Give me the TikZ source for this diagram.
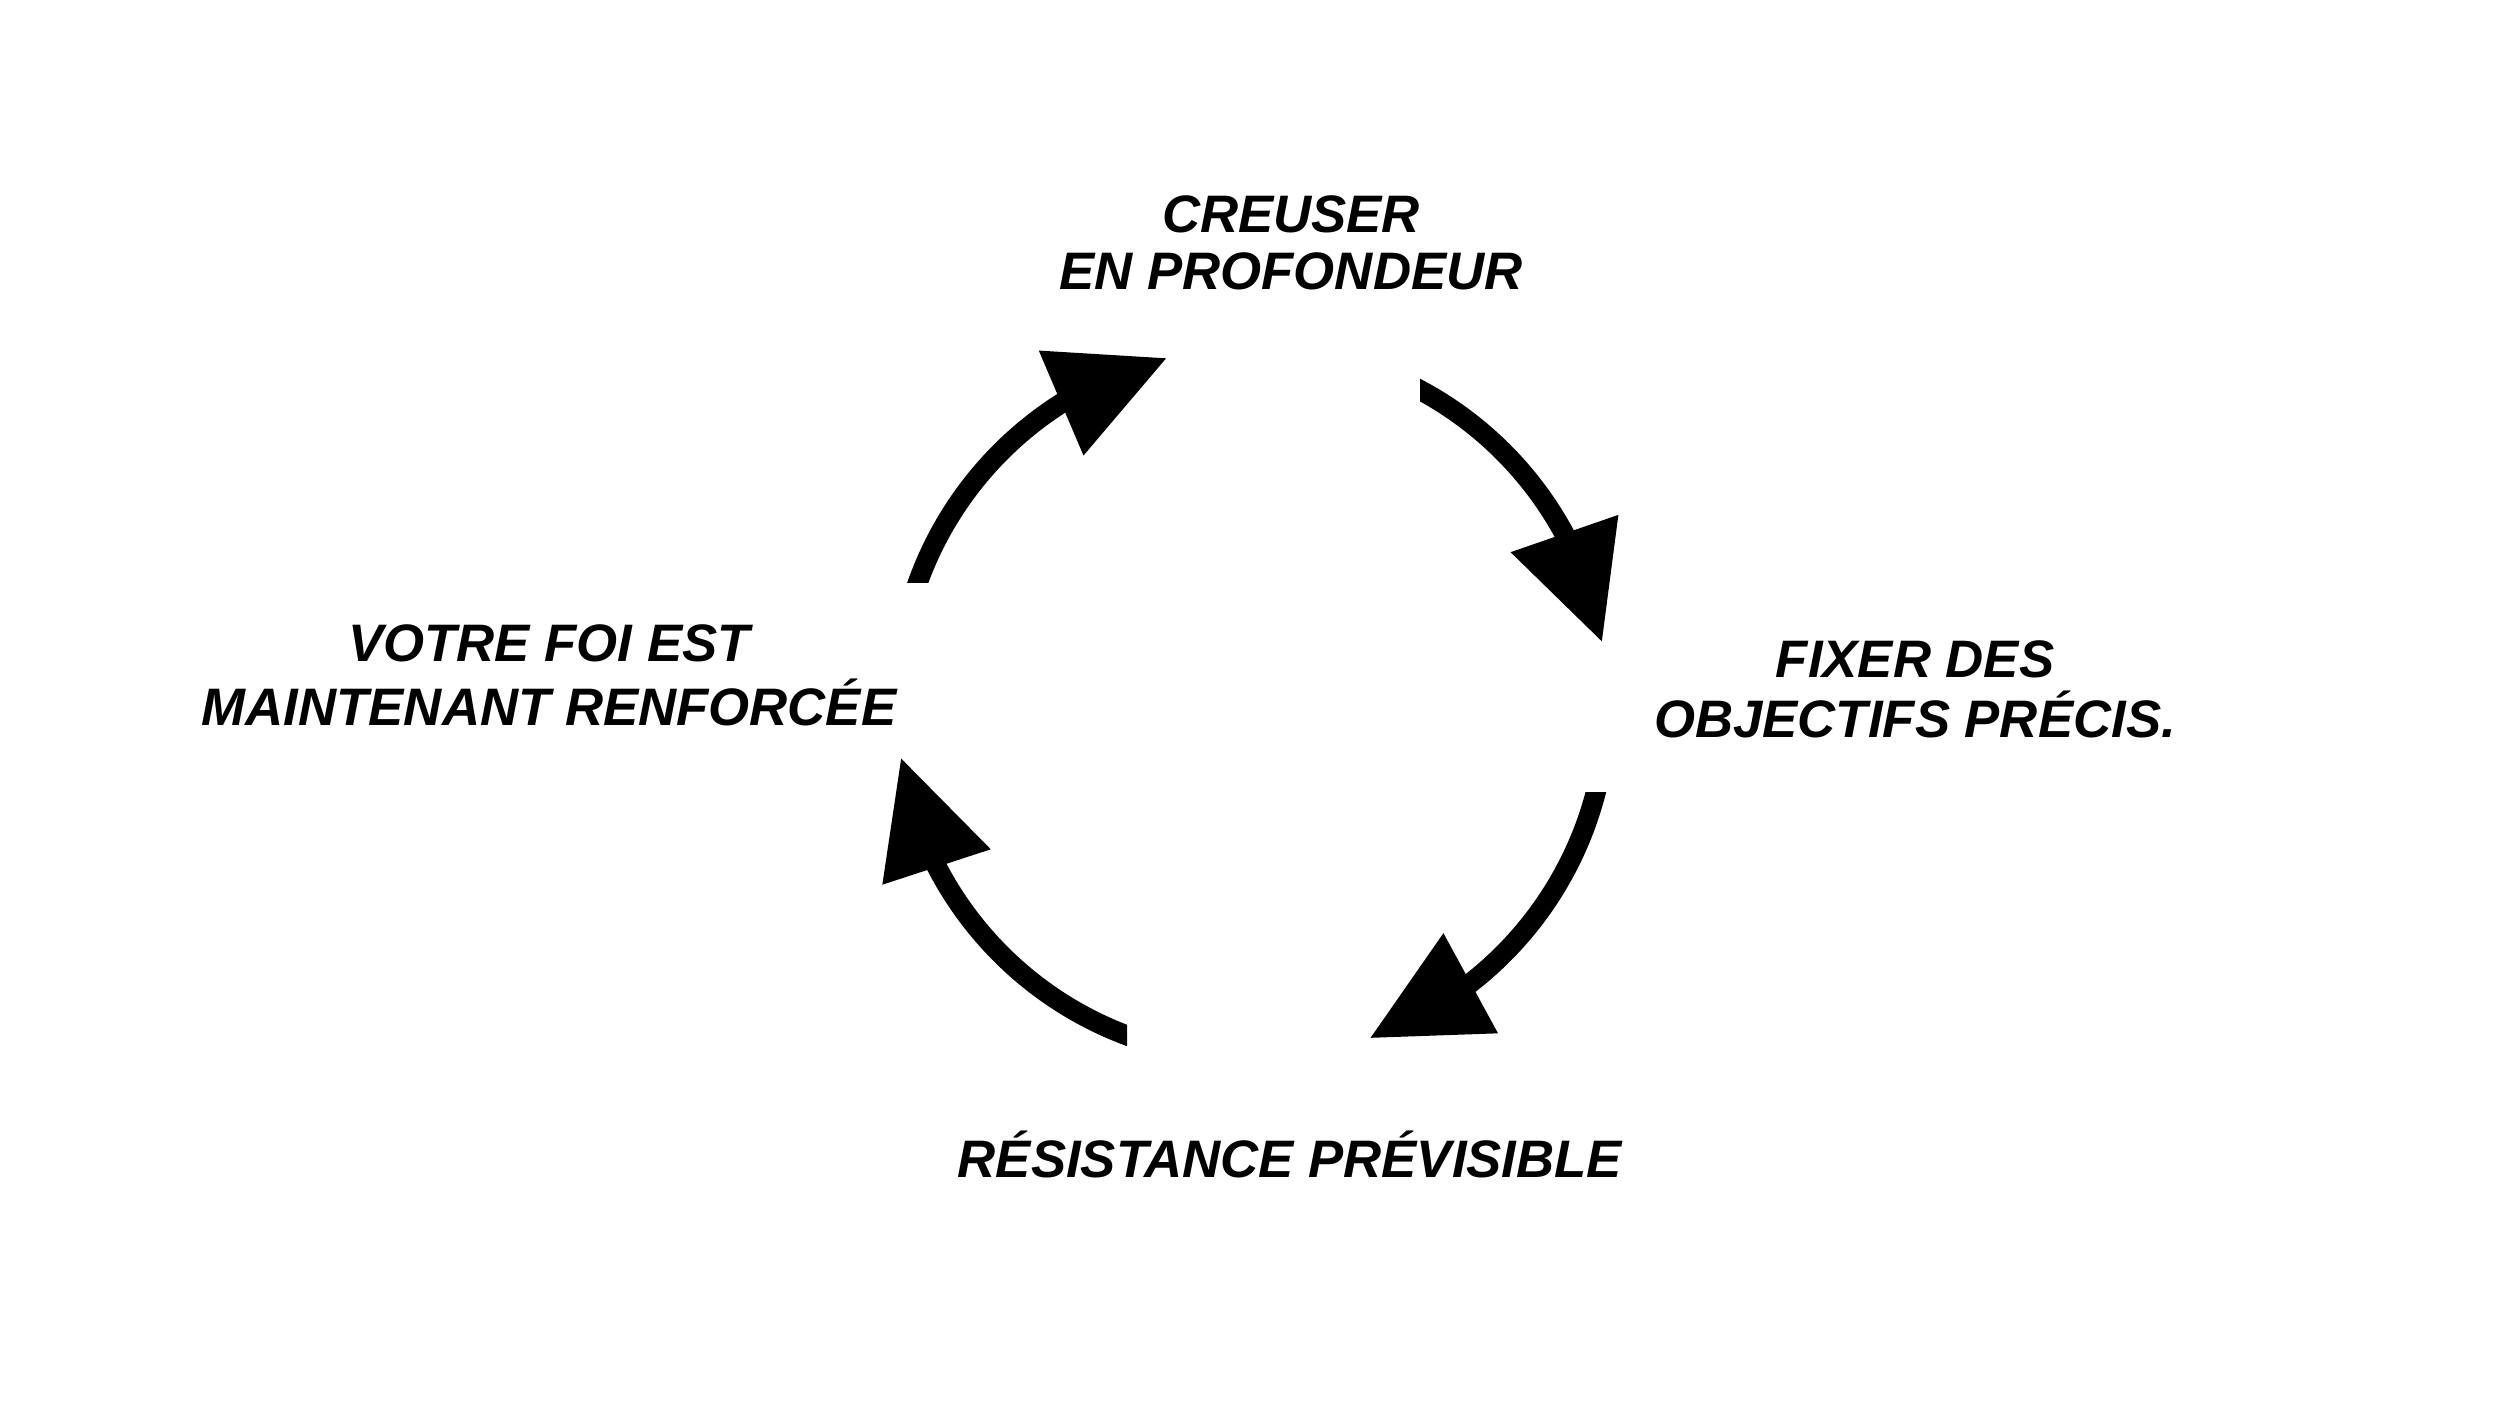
\documentclass[tikz,border=0pt]{standalone}
\usepackage{fontspec}
\setmainfont{Liberation Sans}
\usetikzlibrary{arrows.meta,bending}
\begin{document}
\begin{tikzpicture}[x=0.01cm,y=0.01cm,
  lbl/.style={font=\fontsize{15pt}{15.93pt}\selectfont\bfseries\itshape, inner sep=0pt, anchor=base},
  cycarrow/.style={line width=0.2cm, -{Triangle[flex, length=1.14cm, width=1.14cm, line width=0pt]}}]
\useasboundingbox (0,0) rectangle (2500,1406);
\fill[white] (0,0) rectangle (2500,1406);
\coordinate (C) at (1252,703);
% labels
\node[lbl] (top) at (1291,1173) {\begin{tabular}[t]{@{}c@{}}CREUSER\\EN PROFONDEUR\end{tabular}};
\node[lbl] (right) at (1915,728) {\begin{tabular}[t]{@{}c@{}}FIXER DES\\[-1.1pt]OBJECTIFS PRÉCIS.\end{tabular}};
\node[lbl] (bottom) at (1290,228) {RÉSISTANCE PRÉVISIBLE};
\node[lbl] (left) at (549,744) {\begin{tabular}[t]{@{}c@{}}VOTRE FOI EST\\MAINTENANT RENFORCÉE\end{tabular}};
% arrow start points on the circle
\coordinate (a1) at ([shift={(166:3.55cm)}]C);
\coordinate (a2) at ([shift={(67:3.55cm)}]C);
\coordinate (a3) at ([shift={(-9:3.55cm)}]C);
\coordinate (a4) at ([shift={(-105:3.55cm)}]C);
% arrows
\begin{scope}
  \clip (0,823) rectangle (2500,1406);
  \draw[cycarrow] (a1) arc[start angle=166, end angle=104, radius=3.55cm];
\end{scope}
\begin{scope}
  \clip (1420,0) rectangle (2500,1406);
  \draw[cycarrow] (a2) arc[start angle=67, end angle=10, radius=3.55cm];
\end{scope}
\begin{scope}
  \clip (0,0) rectangle (2500,613);
  \draw[cycarrow] (a3) arc[start angle=-9, end angle=-70.5, radius=3.55cm];
\end{scope}
\begin{scope}
  \clip (0,0) rectangle (1127,1406);
  \draw[cycarrow] (a4) arc[start angle=-105, end angle=-171, radius=3.55cm];
\end{scope}
\end{tikzpicture}
\end{document}
